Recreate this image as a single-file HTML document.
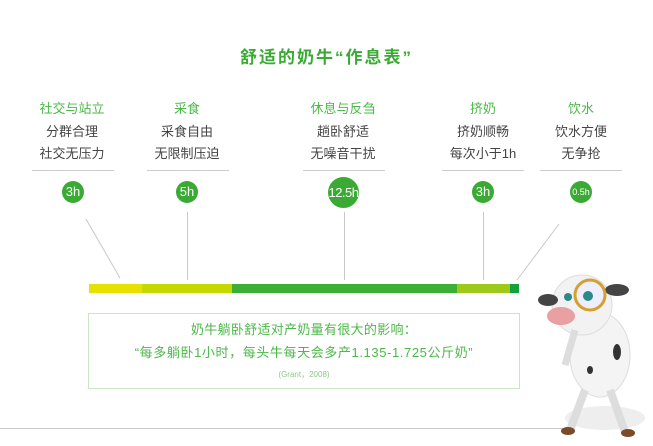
<!DOCTYPE html>
<html><head><meta charset="utf-8"><style>
body{margin:0;width:653px;height:446px;background:#fff;position:relative;overflow:hidden;font-family:"Liberation Sans","Noto Sans CJK SC",sans-serif}
.a{position:absolute}
.col{position:absolute;width:100px;text-align:center;top:100px}
.h{color:#4cb848;font-size:13px;line-height:18px;margin-bottom:3px}
.t{color:#444;font-size:13px;line-height:22px}
.sep{position:absolute;top:170px;height:1px;background:#ccc;width:82px}
.c{position:absolute;border-radius:50%;background:#3aaa35;color:#fff;text-align:center;font-size:13px}
</style></head><body>
<div class="a" style="left:0;width:653px;top:43px;text-align:center;color:#3aaa35;font-weight:bold;font-size:17px;letter-spacing:2px">舒适的奶牛“作息表”</div>

<div class="col" style="left:22px"><div class="h">社交与站立</div><div class="t">分群合理</div><div class="t">社交无压力</div></div>
<div class="col" style="left:137px"><div class="h">采食</div><div class="t">采食自由</div><div class="t">无限制压迫</div></div>
<div class="col" style="left:293px"><div class="h">休息与反刍</div><div class="t">趟卧舒适</div><div class="t">无噪音干扰</div></div>
<div class="col" style="left:433px"><div class="h">挤奶</div><div class="t">挤奶顺畅</div><div class="t">每次小于1h</div></div>
<div class="col" style="left:531px"><div class="h">饮水</div><div class="t">饮水方便</div><div class="t">无争抢</div></div>

<div class="sep" style="left:32px"></div>
<div class="sep" style="left:147px"></div>
<div class="sep" style="left:303px"></div>
<div class="sep" style="left:442px"></div>
<div class="sep" style="left:540px"></div>

<div class="c" style="left:62px;top:181px;width:22px;height:22px;line-height:22px">3h</div>
<div class="c" style="left:176px;top:181px;width:22px;height:22px;line-height:22px">5h</div>
<div class="c" style="left:328px;top:177px;width:31px;height:31px;line-height:31px;letter-spacing:-0.5px">12.5h</div>
<div class="c" style="left:472px;top:181px;width:22px;height:22px;line-height:22px">3h</div>
<div class="c" style="left:570px;top:181px;width:22px;height:22px;line-height:22px;font-size:9px">0.5h</div>

<svg class="a" style="left:0;top:0" width="653" height="446">
<g stroke="#c8c8c8" stroke-width="1">
<line x1="86" y1="219" x2="120" y2="278"/>
<line x1="187.5" y1="212" x2="187.5" y2="280"/>
<line x1="344.5" y1="212" x2="344.5" y2="280"/>
<line x1="483.5" y1="212" x2="483.5" y2="280"/>
<line x1="559" y1="224" x2="517" y2="280"/>
<line x1="0" y1="428.5" x2="572" y2="428.5"/>
</g>
<rect x="89" y="284" width="53" height="9" fill="#e6e100"/>
<rect x="142" y="284" width="90" height="9" fill="#c5d900"/>
<rect x="232" y="284" width="225" height="9" fill="#3daf35"/>
<rect x="457" y="284" width="53" height="9" fill="#9cc91a"/>
<rect x="510" y="284" width="9" height="9" fill="#14a03c"/>
<rect x="88.5" y="313.5" width="431" height="75" fill="none" stroke="#c9e6c4"/>
<!-- cow -->
<ellipse cx="605" cy="418" rx="40" ry="12" fill="#eee"/>
<ellipse cx="600" cy="355" rx="30" ry="42" fill="#f4f4f4" stroke="#ddd"/>
<ellipse cx="582" cy="305" rx="30" ry="30" fill="#f2f2f2" stroke="#ddd"/>
<ellipse cx="561" cy="316" rx="14" ry="9" fill="#e8a0a0"/>
<ellipse cx="548" cy="300" rx="10" ry="6" fill="#444"/>
<ellipse cx="617" cy="290" rx="12" ry="6" fill="#444"/>
<circle cx="590" cy="295" r="15" fill="#eef" stroke="#d4a030" stroke-width="3"/>
<circle cx="588" cy="296" r="5" fill="#2a8a8a"/>
<circle cx="568" cy="297" r="4" fill="#2a8a8a"/>
<ellipse cx="617" cy="352" rx="4" ry="8" fill="#333"/>
<ellipse cx="590" cy="370" rx="3" ry="4" fill="#333"/>
<line x1="585" y1="390" x2="570" y2="430" stroke="#ddd" stroke-width="8"/>
<line x1="610" y1="390" x2="625" y2="432" stroke="#ddd" stroke-width="8"/>
<line x1="575" y1="330" x2="565" y2="365" stroke="#ddd" stroke-width="7"/>
<ellipse cx="568" cy="431" rx="7" ry="4" fill="#7a4a2a"/>
<ellipse cx="628" cy="433" rx="7" ry="4" fill="#7a4a2a"/>
</svg>

<div class="a" style="left:88px;width:432px;top:321px;text-align:center;color:#4cb848;font-size:13px;line-height:18px;letter-spacing:0.3px">奶牛躺卧舒适对产奶量有很大的影响：</div>
<div class="a" style="left:88px;width:432px;top:344px;text-align:center;color:#4cb848;font-size:13px;line-height:18px;letter-spacing:0.6px">“每多躺卧1小时，每头牛每天会多产1.135-1.725公斤奶”</div>
<div class="a" style="left:88px;width:432px;top:369px;text-align:center;color:#8cc88a;font-size:8px;line-height:12px">(Grant，2008)</div>
</body></html>
